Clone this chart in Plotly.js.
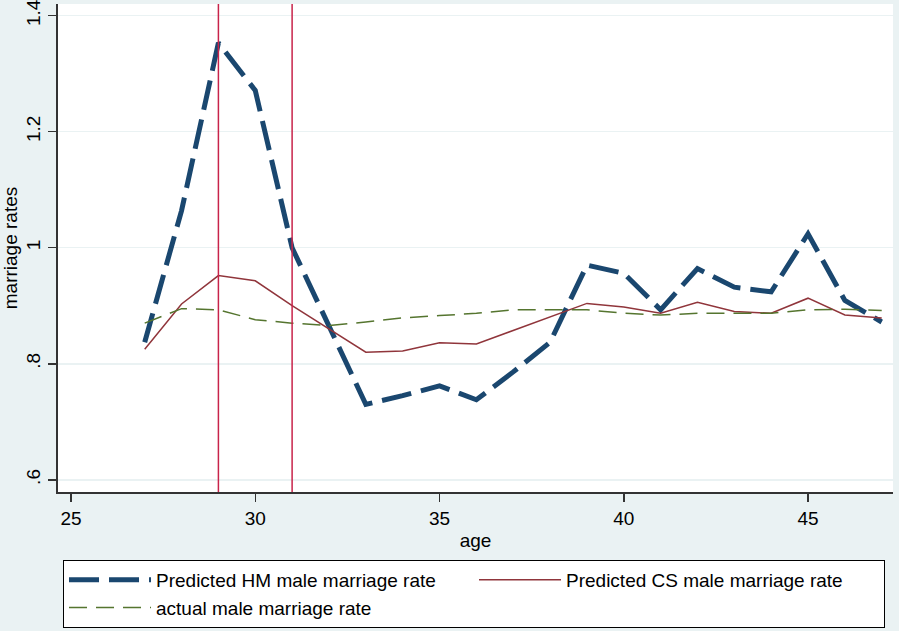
<!DOCTYPE html>
<html>
<head>
<meta charset="utf-8">
<script src="https://cdn.plot.ly/plotly-3.0.1.min.js"></script>
<style>html,body{margin:0;padding:0;background:#eaf2f3;}#chart{width:899px;height:631px;}</style>
</head>
<body>
<div id="chart"></div>
<script>
const age = [27,28,29,30,31,32,33,34,35,36,37,38,39,40,41,42,43,44,45,46,47];
const hmRate = [0.837,1.064,1.353,1.271,1.000,0.866,0.730,0.745,0.762,0.738,0.786,0.837,0.970,0.956,0.893,0.964,0.932,0.924,1.024,0.909,0.872];
const csRate = [0.825,0.903,0.952,0.943,0.900,0.860,0.820,0.822,0.836,0.834,0.857,0.880,0.904,0.898,0.887,0.906,0.890,0.887,0.913,0.884,0.879];
const actualRate = [0.870,0.895,0.893,0.876,0.870,0.866,0.872,0.879,0.883,0.887,0.893,0.893,0.893,0.887,0.884,0.887,0.887,0.887,0.893,0.894,0.892];
const seriesNames = ["Predicted HM male marriage rate","Predicted CS male marriage rate","actual male marriage rate"];
const vLines = [29, 31];
const xTicks = [25,30,35,40,45];
const yTickVals = [0.6,0.8,1.0,1.2,1.4];
const yTickText = [".6",".8","1","1.2","1.4"];

const font = "Liberation Sans, Arial, sans-serif";
const traces = [
  {x: age, y: hmRate, name: seriesNames[0], type: "scatter", mode: "lines",
   line: {color: "#1a476f", width: 5, dash: "30px,10px"}},
  {x: age, y: csRate, name: seriesNames[1], type: "scatter", mode: "lines",
   line: {color: "#90353b", width: 1.5}},
  {x: age, y: actualRate, name: seriesNames[2], type: "scatter", mode: "lines",
   line: {color: "#55752f", width: 1.5, dash: "18px,9px"}}
];
const shapes = vLines.map(v => ({type: "line", xref: "x", yref: "paper", x0: v, x1: v, y0: 0, y1: 1,
  line: {color: "#c8234a", width: 1.5}}));
const layout = {
  width: 899, height: 631,
  paper_bgcolor: "#eaf2f3", plot_bgcolor: "#ffffff",
  margin: {l: 58, r: 6, t: 4, b: 138},
  font: {family: font, size: 19, color: "#000"},
  showlegend: true,
  xaxis: {range: [24.647, 47.306], tickvals: xTicks, ticks: "outside", ticklen: 8, tickwidth: 1.5,
    tickcolor: "#333", showline: true, linecolor: "#333", linewidth: 2, showgrid: false, zeroline: false,
    title: {text: "age", font: {size: 19}, standoff: 6}, tickfont: {size: 19}},
  yaxis: {range: [0.579, 1.42], tickvals: yTickVals, ticktext: yTickText, tickangle: -90,
    ticklabeloverflow: "allow",
    ticks: "outside", ticklen: 8, tickwidth: 1.5, tickcolor: "#333", showline: true, linecolor: "#333",
    linewidth: 2, showgrid: true, gridcolor: "#eaf2f3", gridwidth: 1.5, zeroline: false,
    title: {text: "marriage rates", font: {size: 19}, standoff: 4}, tickfont: {size: 19}},
  legend: {orientation: "h", x: 0.006, xanchor: "left", y: -0.137, yanchor: "top",
    bgcolor: "#ffffff", bordercolor: "#000", borderwidth: 1,
    entrywidth: 313, entrywidthmode: "pixels", itemwidth: 82, traceorder: "normal",
    font: {size: 19}},
  shapes: shapes
};
Plotly.newPlot("chart", traces, layout, {displayModeBar: false, staticPlot: true});
</script>
</body>
</html>
